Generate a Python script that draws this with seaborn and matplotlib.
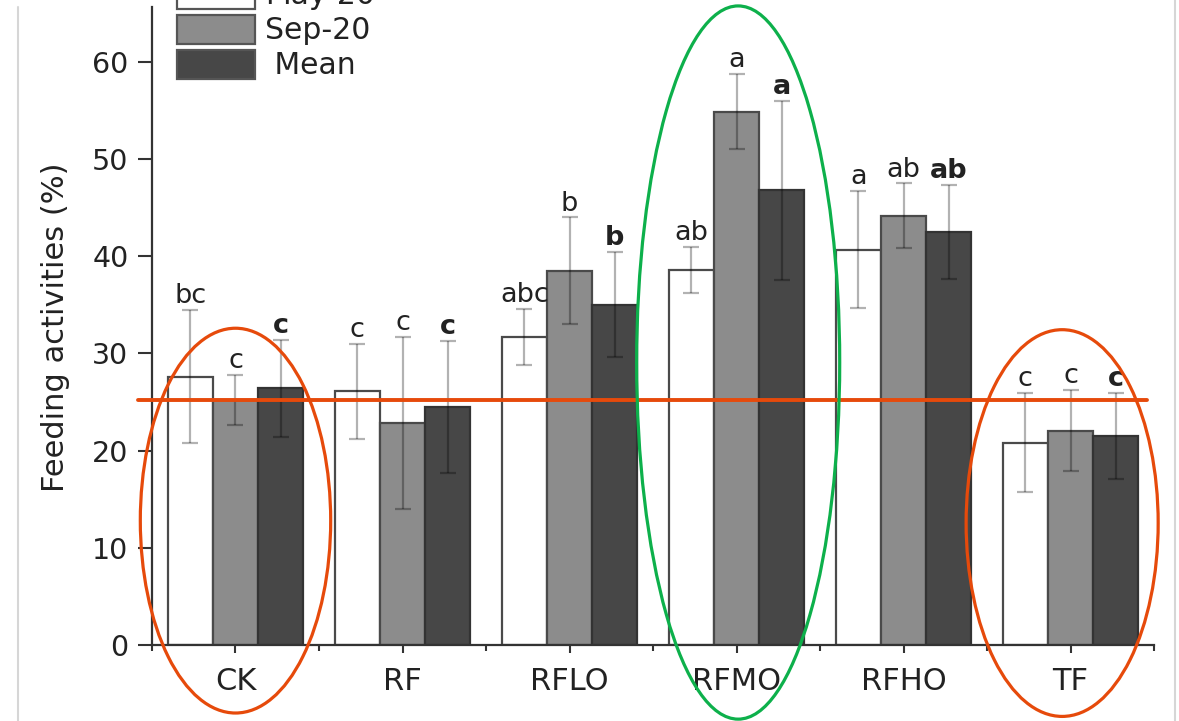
import numpy as np
import pandas as pd
import matplotlib
matplotlib.use("Agg")
import matplotlib.pyplot as plt
import seaborn as sns
from matplotlib.patches import Ellipse
from matplotlib.lines import Line2D
from matplotlib.ticker import FixedLocator

# ---------------- data ----------------
categories = ["CK", "RF", "RFLO", "RFMO", "RFHO", "TF"]
series_names = ["May-20", "Sep-20", " Mean"]

may20 = [27.6, 26.1, 31.7, 38.6, 40.7, 20.8]
may20_err = [6.85, 4.9, 2.9, 2.35, 6.0, 5.1]
sep20 = [25.2, 22.85, 38.5, 54.9, 44.2, 22.05]
sep20_err = [2.6, 8.85, 5.5, 3.85, 3.3, 4.15]
mean = [26.4, 24.5, 35.0, 46.8, 42.5, 21.5]
mean_err = [5.0, 6.8, 5.4, 9.2, 4.85, 4.4]

may20_letters = ["bc", "c", "abc", "ab", "a", "c"]
sep20_letters = ["c", "c", "b", "a", "ab", "c"]
mean_letters = ["c", "c", "b", "a", "ab", "c"]

reference_level = 25.2
y_ticks = [0, 10, 20, 30, 40, 50, 60]

# ---------------- style ----------------
sns.set_style("ticks")
plt.rcParams["font.family"] = ["DejaVu Sans"]

bar_colors = {"May-20": "#ffffff", "Sep-20": "#8c8c8c", " Mean": "#474747"}
edge_colors = ["#4a4a4a", "#4a4a4a", "#333333"]
text_color = "#222222"
red = "#E64A0B"
green = "#0DB04B"

fig = plt.figure(figsize=(11.79, 7.21), dpi=100)
ax = fig.add_axes([152 / 1179, 76 / 721, 1002 / 1179, 638 / 721])

df = pd.DataFrame({
    "Treatment": categories * 3,
    "Period": [series_names[0]] * len(categories)
              + [series_names[1]] * len(categories)
              + [series_names[2]] * len(categories),
    "Value": may20 + sep20 + mean,
})

sns.barplot(data=df, x="Treatment", y="Value", hue="Period",
            order=categories, hue_order=series_names, palette=bar_colors,
            width=0.81, errorbar=None, saturation=1, linewidth=1.6,
            edgecolor="#444444", ax=ax, zorder=2)

values = [may20, sep20, mean]
errors = [may20_err, sep20_err, mean_err]
letters = [may20_letters, sep20_letters, mean_letters]
weights = ["normal", "normal", "bold"]

for container, vals, errs, labs, ec, fw in zip(ax.containers, values, errors,
                                               letters, edge_colors, weights):
    xs = []
    for p in container:
        p.set_edgecolor(ec)
        xs.append(p.get_x() + p.get_width() / 2)
    ax.errorbar(xs, vals, yerr=errs, fmt="none", ecolor="black", alpha=0.3,
                elinewidth=1.6, capsize=5.5, capthick=1.6, zorder=3)
    for x, v, e, t in zip(xs, vals, errs, labs):
        ax.annotate(t, (x, v + e), xytext=(0, 5), textcoords="offset points",
                    ha="center", va="baseline", fontsize=19.5, color=text_color,
                    fontweight=fw, zorder=4)

# axes
ax.set_xlim(-0.5, len(categories) - 0.5)
ax.set_ylim(0, 65.66)
ax.set_yticks(y_ticks)
ax.set_xlabel("")
ax.set_ylabel("Feeding activities (%)", fontsize=22, color=text_color)
ax.yaxis.set_label_coords(-0.0818, 0.498)
sns.despine(ax=ax)
for s in ["left", "bottom"]:
    ax.spines[s].set_linewidth(1.6)
    ax.spines[s].set_color("#333333")
ax.xaxis.set_minor_locator(FixedLocator(np.arange(-0.5, len(categories), 1.0)))
ax.tick_params(axis="y", length=10, width=1.5, color="#333333",
               labelsize=20.5, labelcolor=text_color, pad=7)
ax.tick_params(axis="x", which="major", length=6, width=1.5, color="#333333",
               labelsize=22, labelcolor=text_color, pad=10)
ax.tick_params(axis="x", which="minor", length=4, width=1.5, color="#333333")

# legend (first entry cut off at top, as in the reference)
handles, labels = ax.get_legend_handles_labels()
if ax.get_legend() is not None:
    ax.get_legend().remove()
for h in handles:
    h.set_edgecolor("#555555")
    h.set_linewidth(1.6)
ax.legend(handles, labels, loc="upper left", bbox_to_anchor=(0.025, 1.043),
          frameon=False, fontsize=21.5, handlelength=2.6, handleheight=1.14,
          labelspacing=0.14, handletextpad=0.34, borderpad=0, borderaxespad=0,
          labelcolor=text_color)

# annotation overlays: reference line and ellipses
ax.plot([-0.584, 5.458], [reference_level, reference_level], color=red,
        lw=2.8, clip_on=False, zorder=6)
ax.add_patch(Ellipse((0.0, 12.8), 1.14, 39.6, fill=False, edgecolor=red,
                     lw=2.3, clip_on=False, zorder=7))
ax.add_patch(Ellipse((3.01, 29.07), 1.216, 73.4, fill=False, edgecolor=green,
                     lw=2.3, clip_on=False, zorder=7))
ax.add_patch(Ellipse((4.95, 12.55), 1.15, 39.8, fill=False, edgecolor=red,
                     lw=2.3, clip_on=False, zorder=7))

# screenshot border lines
fig.add_artist(Line2D([18 / 1179, 18 / 1179], [0, 714 / 721],
                      transform=fig.transFigure, color="#d6d6d6", lw=1.5))
fig.add_artist(Line2D([1175 / 1179, 1175 / 1179], [0, 1],
                      transform=fig.transFigure, color="#d6d6d6", lw=1.5))

fig.savefig("out.png", dpi=100)
